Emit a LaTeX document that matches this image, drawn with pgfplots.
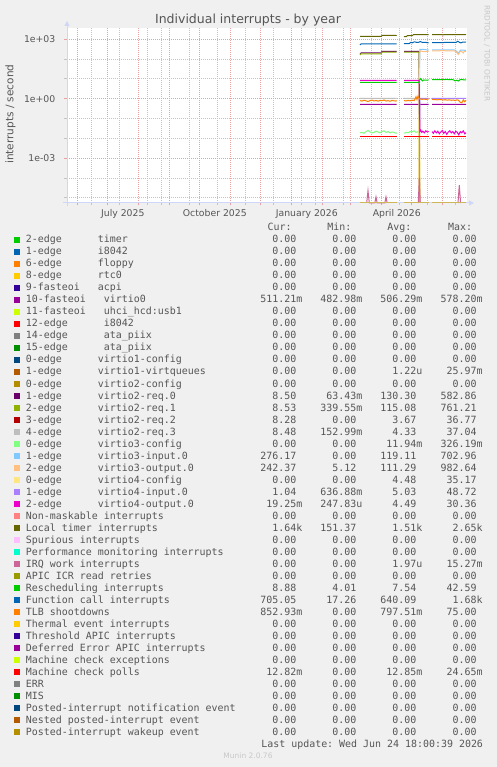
\documentclass[border=0pt]{standalone}
\usepackage{fontspec}
\setmainfont{DejaVu Sans}
\newfontfamily\mono{DejaVu Sans Mono}
\usepackage{pgfplots}
\pgfplotsset{compat=1.18}
\usetikzlibrary{arrows.meta}
\frenchspacing
\definecolor{bgc}{HTML}{F0F0F0}
\definecolor{fontc}{HTML}{555555}
\definecolor{axc}{HTML}{CFD6F8}
\definecolor{mgrid}{HTML}{E8A0A0}
\definecolor{ngrid}{HTML}{C4C4C4}
\definecolor{wmc}{HTML}{C8C8C8}
\definecolor{m00CC00}{HTML}{00CC00}
\definecolor{m0066B3}{HTML}{0066B3}
\definecolor{mFF8000}{HTML}{FF8000}
\definecolor{mFFCC00}{HTML}{FFCC00}
\definecolor{m330099}{HTML}{330099}
\definecolor{m990099}{HTML}{990099}
\definecolor{mCCFF00}{HTML}{CCFF00}
\definecolor{mFF0000}{HTML}{FF0000}
\definecolor{m808080}{HTML}{808080}
\definecolor{m008F00}{HTML}{008F00}
\definecolor{m00487D}{HTML}{00487D}
\definecolor{mB35A00}{HTML}{B35A00}
\definecolor{mB38F00}{HTML}{B38F00}
\definecolor{m6B006B}{HTML}{6B006B}
\definecolor{m8FB300}{HTML}{8FB300}
\definecolor{mB30000}{HTML}{B30000}
\definecolor{mBEBEBE}{HTML}{BEBEBE}
\definecolor{m80FF80}{HTML}{80FF80}
\definecolor{m80C9FF}{HTML}{80C9FF}
\definecolor{mFFC080}{HTML}{FFC080}
\definecolor{mFFE680}{HTML}{FFE680}
\definecolor{mAA80FF}{HTML}{AA80FF}
\definecolor{mEE00CC}{HTML}{EE00CC}
\definecolor{mFF8080}{HTML}{FF8080}
\definecolor{m666600}{HTML}{666600}
\definecolor{mFFBFFF}{HTML}{FFBFFF}
\definecolor{m00FFCC}{HTML}{00FFCC}
\definecolor{mCC6699}{HTML}{CC6699}
\definecolor{m999900}{HTML}{999900}
\newcommand\zz{0.00\phantom{0}}
\newcommand\lfont{\mono\fontsize{9.95bp}{12bp}\selectfont\frenchspacing}
\newcommand\lrow[9]{%
  \fill[#2] (14,{524-12*#1}) rectangle (20,{530-12*#1});
  \node[lt] at (25.8,{524-12*#1}) {#3};
  \node[lt] at (#4,{524-12*#1}) {#5};
  \node[ln] at (302.5,{524-12*#1}) {#6};
  \node[ln] at (362.5,{524-12*#1}) {#7};
  \node[ln] at (422.5,{524-12*#1}) {#8};
  \node[ln] at (482.7,{524-12*#1}) {#9};
}
\begin{document}
\begin{tikzpicture}[
  lt/.style={anchor=base west,inner sep=0pt,font=\lfont,text=fontc},
  ln/.style={anchor=base east,inner sep=0pt,font=\lfont,text=fontc}]
\fill[bgc] (0,0) rectangle (497bp,767bp);
\begin{axis}[
  at={(67bp,564bp)}, anchor=south west,
  scale only axis, width=400bp, height=175bp,
  xmin=-10.3, xmax=389.7,
  ymode=log, ymin=5.5e-6, ymax=3675,
  axis line style={draw=none},
  axis background/.style={fill=white},
  clip=false,
  unbounded coords=jump,
  xtick pos=bottom, ytick pos=left,
  xtick={0,30,61,92,122,153,183,214,245,273,304,334,365},
  xticklabels={},
  minor xtick={14,42,70,84,112,140,168,196,224,238,266,294,322,350,378},
  extra x ticks={45.5,137.5,229.5,319.5},
  extra x tick labels={July 2025,October 2025,January 2026,April 2026},
  extra x tick style={grid=none, major tick length=0pt},
  ytick={1e-3,1,1e3},
  yticklabels={1e-03,1e+00,1e+03},
  minor ytick={1e-5,1e-4,1e-2,1e-1,1e1,1e2},
  grid=both,
  major grid style={draw=mgrid, line width=0.8bp, dash pattern=on 1bp off 1bp},
  minor grid style={draw=ngrid, line width=0.8bp, dash pattern=on 1bp off 1bp},
  tick align=outside,
  major tick length=2.5bp, minor tick length=2.5bp,
  major tick style={draw=mgrid, line width=0.8bp},
  minor tick style={draw=ngrid, line width=0.8bp},
  xticklabel style={font=\fontsize{9.3bp}{10bp}\selectfont, text=fontc, inner sep=0pt, yshift=-6bp},
  yticklabel style={font=\fontsize{9.3bp}{10bp}\selectfont, text=fontc, inner sep=0pt, xshift=-9bp},
  every axis plot/.append style={line width=1bp, mark=none},
]
\draw[axc, line width=1bp, -{Triangle[width=5bp,length=5bp]}] ([xshift=-4bp]rel axis cs:0,0) -- ([xshift=7bp]rel axis cs:1,0);
\draw[axc, line width=1bp, -{Triangle[width=5bp,length=5bp]}] ([yshift=-3bp]rel axis cs:0,0) -- ([yshift=7bp]rel axis cs:0,1);
% 10-fasteoi virtio0
\addplot[m990099] coordinates {(282.7,0.51)(319.4,0.51)(322,nan)(326.7,0.51)(351.4,0.51)(353,nan)(354.7,0.51)(388.7,0.511)};
% virtio2-req.0
\addplot[m6B006B] coordinates {(282.7,180)(283.7,202)(304,202)(304.7,246)(319.4,246)(322,nan)(326.7,246)(341.7,246)(342.3,5.5e-6)};
% virtio2-req.1
\addplot[m8FB300] coordinates {(282.7,160)(283.7,183)(304,183)(304.7,226)(319.4,226)(322,nan)(326.7,226)(341.7,226)(342.0,10)(342.3,5.5e-6)};
% virtio2-req.3
\addplot[mBEBEBE] coordinates {(282.7,1.05)(319.4,1.05)(322,nan)(326.7,1.05)(341.7,1.05)(342.3,5.5e-6)};
% virtio3-config
\addplot[m80FF80] coordinates {(282.7,.019)(284.7,.020)(286.7,.018)(288.7,.022)(290.7,.025)(292.7,.021)(294.7,.019)(296.7,.020)(298.7,.023)(300.7,.021)(302.7,.019)(304.7,.022)(306.7,.024)(308.7,.020)(310.7,.022)(312.7,.019)(314.7,.021)(316.7,.020)(318.7,.018)(319.4,.019)(322,nan)(326.7,.018)(328.7,.020)(330.7,.019)(332.7,.022)(334.7,.021)(336.7,.024)(338.7,.020)(340.7,.022)(341.7,.021)(342.3,5.5e-6)};
% virtio3-input.0
\addplot[m80C9FF] coordinates {(341.7,5.5e-6)(342.5,310)(344,300)(346,310)(348,295)(351.4,290)(353,nan)(354.7,286)(360,286)(370,288)(378,285)(380,220)(381.5,205)(383,280)(388.7,276)};
% virtio3-output.0
\addplot[mFFC080] coordinates {(341.5,5.5e-6)(342.2,60)(342.5,260)(344,250)(346,240)(348,235)(351.4,250)(353,nan)(354.7,260)(365,262)(377,260)(379,230)(381,170)(382.5,230)(384,250)(386,200)(387,245)(388.7,242)};
% virtio4-config
\addplot[mFFE680] coordinates {(341.2,5.5e-6)(342,35)(342.8,5.5e-6)};
% virtio4-input.0
\addplot[mAA80FF] coordinates {(341.9,5.5e-6)(342.6,1.04)(351.4,1.04)(353,nan)(354.7,1.04)(388.7,1.04)};
% virtio4-output.0
\addplot[mEE00CC] coordinates {(282.7,8.5)(319.4,8.5)(322,nan)(326.7,8.5)(341.9,8.5)(342.6,.022)(343.5,.026)(344.5,.020)(345.5,.023)(347,.019)(348.5,.024)(350,.021)(351.4,.022)(353,nan)(354.7,.022)(356,.018)(357.5,.024)(359,.019)(360.5,.023)(362,.017)(363.5,.021)(365,.025)(366.5,.018)(368,.022)(369.5,.016)(371,.021)(372.5,.024)(374,.019)(375.5,.022)(377,.017)(378.5,.023)(380,.020)(381.5,.015)(383,.022)(384.5,.019)(386,.024)(387.5,.017)(388.7,.0193)};
% Local timer
\addplot[m666600] coordinates {(282.7,1400)(304,1405)(305,1570)(318.4,1575)(319.4,1520)(322,nan)(326.7,1340)(329,1350)(330,1500)(335,1500)(336,1680)(351.4,1690)(353,nan)(354.7,1720)(364,1720)(365.5,1640)(367,1720)(386,1720)(388.7,1680)};
% IRQ work
\addplot[mCC6699] coordinates {(289.4,5.5e-6)(290.7,2.3e-5)(292,5.5e-6)(297.5,5.5e-6)(298.7,1.1e-5)(299.9,5.5e-6)(307.5,5.5e-6)(308.7,1.1e-5)(309.9,5.5e-6)(322,nan)(341,5.5e-6)(342,1e-4)(343,5.5e-6)(353,nan)(380.7,5.5e-6)(382,4.4e-5)(383.3,5.5e-6)};
% Rescheduling
\addplot[m00CC00] coordinates {(282.7,6.7)(319.4,6.7)(322,nan)(326.7,6.7)(341.7,6.7)(342.4,8.8)(343,10.2)(344,9.5)(345,7.9)(346.5,8.8)(348,8.6)(351.4,8.8)(353,nan)(354.7,9.2)(360,9.2)(370,9.3)(376,9.0)(378,7.9)(379.5,8.5)(381,7.8)(383,9.2)(386,9.0)(388.7,8.88)};
% Function call
\addplot[m0066B3] coordinates {(282.7,520)(283.7,573)(300,573)(319.4,573)(322,nan)(326.7,600)(332,605)(333.5,690)(335,660)(337,740)(339,700)(341,690)(343,760)(345,690)(348,700)(351.4,650)(353,nan)(354.7,680)(365,680)(375,690)(379,700)(380.5,790)(382,700)(383.5,650)(385.5,720)(388.7,705)};
% TLB shootdowns
\addplot[mFF8000] coordinates {(282.7,.80)(284.7,.76)(286.7,.83)(288.7,.78)(290.7,.72)(292.7,.80)(294.7,.85)(296.7,.77)(298.7,.81)(300.7,.75)(302.7,.82)(304.7,.79)(306.7,.86)(308.7,.76)(310.7,.80)(312.7,.74)(314.7,.82)(316.7,.78)(318.7,.76)(319.4,.80)(322,nan)(326.7,.80)(328.7,.77)(330.7,.82)(332.7,.78)(334.7,.84)(336.7,.80)(337.7,.95)(338.7,1.25)(339.7,.90)(340.7,1.35)(341.7,1.05)(342.7,.95)(344.7,.93)(346.7,.95)(348.7,.92)(350.7,.95)(351.4,.94)(353,nan)(354.7,.92)(357,.90)(360,.88)(363,.91)(366,.87)(368,.89)(370,.84)(372,.88)(374,.83)(376,.86)(378,.80)(379.5,.88)(381,.84)(383,.66)(384.5,.62)(386,.88)(387.5,.70)(388.7,.85)};
% Machine check polls
\addplot[mFF0000] coordinates {(282.7,.0128)(319.4,.0128)(322,nan)(326.7,.0128)(351.4,.0128)(353,nan)(354.7,.0128)(388.7,.0128)};
% zero-valued series at the bottom
\addplot[mB38F00!65!white] coordinates {(282.7,5.5e-6)(319.4,5.5e-6)(322,nan)(326.7,5.5e-6)(351.4,5.5e-6)(353,nan)(354.7,5.5e-6)(388.7,5.5e-6)};
\end{axis}
\begin{scope}[x=1bp,y=1bp]
% title, axis label, watermark
\node[anchor=base, inner sep=0pt, text=fontc, font=\fontsize{12.5bp}{14bp}\selectfont] at (248,743) {Individual interrupts - by year};
\node[anchor=base, inner sep=0pt, rotate=90, text=fontc, font=\fontsize{10.5bp}{12bp}\selectfont] at (13.3,652.8) {interrupts / second};
\node[anchor=center, inner sep=0pt, rotate=-90, text=wmc, font=\fontsize{7.5bp}{9bp}\selectfont] at (487,713.5) {RRDTOOL / TOBI OETIKER};
% legend header
\node[ln] at (291.9,536) {Cur:};
\node[ln] at (351.5,536) {Min:};
\node[ln] at (411.5,536) {Avg:};
\node[ln] at (472.2,536) {Max:};
\lrow{0}{m00CC00}{2-edge}{97.8}{timer}{\zz}{\zz}{\zz}{\zz}
\lrow{1}{m0066B3}{1-edge}{97.8}{i8042}{\zz}{\zz}{\zz}{\zz}
\lrow{2}{mFF8000}{6-edge}{97.8}{floppy}{\zz}{\zz}{\zz}{\zz}
\lrow{3}{mFFCC00}{8-edge}{97.8}{rtc0}{\zz}{\zz}{\zz}{\zz}
\lrow{4}{m330099}{9-fasteoi}{97.8}{acpi}{\zz}{\zz}{\zz}{\zz}
\lrow{5}{m990099}{10-fasteoi}{103.8}{virtio0}{511.21m}{482.98m}{506.29m}{578.20m}
\lrow{6}{mCCFF00}{11-fasteoi}{103.8}{uhci\_hcd:usb1}{\zz}{\zz}{\zz}{\zz}
\lrow{7}{mFF0000}{12-edge}{103.8}{i8042}{\zz}{\zz}{\zz}{\zz}
\lrow{8}{m808080}{14-edge}{103.8}{ata\_piix}{\zz}{\zz}{\zz}{\zz}
\lrow{9}{m008F00}{15-edge}{103.8}{ata\_piix}{\zz}{\zz}{\zz}{\zz}
\lrow{10}{m00487D}{0-edge}{97.8}{virtio1-config}{\zz}{\zz}{\zz}{\zz}
\lrow{11}{mB35A00}{1-edge}{97.8}{virtio1-virtqueues}{\zz}{\zz}{1.22u}{25.97m}
\lrow{12}{mB38F00}{0-edge}{97.8}{virtio2-config}{\zz}{\zz}{\zz}{\zz}
\lrow{13}{m6B006B}{1-edge}{97.8}{virtio2-req.0}{8.50\phantom{0}}{63.43m}{130.30\phantom{0}}{582.86\phantom{0}}
\lrow{14}{m8FB300}{2-edge}{97.8}{virtio2-req.1}{8.53\phantom{0}}{339.55m}{115.08\phantom{0}}{761.21\phantom{0}}
\lrow{15}{mB30000}{3-edge}{97.8}{virtio2-req.2}{8.28\phantom{0}}{\zz}{3.67\phantom{0}}{36.77\phantom{0}}
\lrow{16}{mBEBEBE}{4-edge}{97.8}{virtio2-req.3}{8.48\phantom{0}}{152.99m}{4.33\phantom{0}}{37.04\phantom{0}}
\lrow{17}{m80FF80}{0-edge}{97.8}{virtio3-config}{\zz}{\zz}{11.94m}{326.19m}
\lrow{18}{m80C9FF}{1-edge}{97.8}{virtio3-input.0}{276.17\phantom{0}}{\zz}{119.11\phantom{0}}{702.96\phantom{0}}
\lrow{19}{mFFC080}{2-edge}{97.8}{virtio3-output.0}{242.37\phantom{0}}{5.12\phantom{0}}{111.29\phantom{0}}{982.64\phantom{0}}
\lrow{20}{mFFE680}{0-edge}{97.8}{virtio4-config}{\zz}{\zz}{4.48\phantom{0}}{35.17\phantom{0}}
\lrow{21}{mAA80FF}{1-edge}{97.8}{virtio4-input.0}{1.04\phantom{0}}{636.88m}{5.03\phantom{0}}{48.72\phantom{0}}
\lrow{22}{mEE00CC}{2-edge}{97.8}{virtio4-output.0}{19.25m}{247.83u}{4.49\phantom{0}}{30.36\phantom{0}}
\lrow{23}{mFF8080}{Non-maskable interrupts}{97.8}{}{\zz}{\zz}{\zz}{\zz}
\lrow{24}{m666600}{Local timer interrupts}{97.8}{}{1.64k}{151.37\phantom{0}}{1.51k}{2.65k}
\lrow{25}{mFFBFFF}{Spurious interrupts}{97.8}{}{\zz}{\zz}{\zz}{\zz}
\lrow{26}{m00FFCC}{Performance monitoring interrupts}{97.8}{}{\zz}{\zz}{\zz}{\zz}
\lrow{27}{mCC6699}{IRQ work interrupts}{97.8}{}{\zz}{\zz}{1.97u}{15.27m}
\lrow{28}{m999900}{APIC ICR read retries}{97.8}{}{\zz}{\zz}{\zz}{\zz}
\lrow{29}{m00CC00}{Rescheduling interrupts}{97.8}{}{8.88\phantom{0}}{4.01\phantom{0}}{7.54\phantom{0}}{42.59\phantom{0}}
\lrow{30}{m0066B3}{Function call interrupts}{97.8}{}{705.05\phantom{0}}{17.26\phantom{0}}{640.09\phantom{0}}{1.68k}
\lrow{31}{mFF8000}{TLB shootdowns}{97.8}{}{852.93m}{\zz}{797.51m}{75.00\phantom{0}}
\lrow{32}{mFFCC00}{Thermal event interrupts}{97.8}{}{\zz}{\zz}{\zz}{\zz}
\lrow{33}{m330099}{Threshold APIC interrupts}{97.8}{}{\zz}{\zz}{\zz}{\zz}
\lrow{34}{m990099}{Deferred Error APIC interrupts}{97.8}{}{\zz}{\zz}{\zz}{\zz}
\lrow{35}{mCCFF00}{Machine check exceptions}{97.8}{}{\zz}{\zz}{\zz}{\zz}
\lrow{36}{mFF0000}{Machine check polls}{97.8}{}{12.82m}{\zz}{12.85m}{24.65m}
\lrow{37}{m808080}{ERR}{97.8}{}{\zz}{\zz}{\zz}{\zz}
\lrow{38}{m008F00}{MIS}{97.8}{}{\zz}{\zz}{\zz}{\zz}
\lrow{39}{m00487D}{Posted-interrupt notification event}{97.8}{}{\zz}{\zz}{\zz}{\zz}
\lrow{40}{mB35A00}{Nested posted-interrupt event}{97.8}{}{\zz}{\zz}{\zz}{\zz}
\lrow{41}{mB38F00}{Posted-interrupt wakeup event}{97.8}{}{\zz}{\zz}{\zz}{\zz}
\node[ln] at (483.2,20) {Last update: Wed Jun 24 18:00:39 2026};
\node[anchor=base, inner sep=0pt, text=wmc, font=\fontsize{7.5bp}{9bp}\selectfont] at (248,8.5) {Munin 2.0.76};
\end{scope}
\end{tikzpicture}
\end{document}
